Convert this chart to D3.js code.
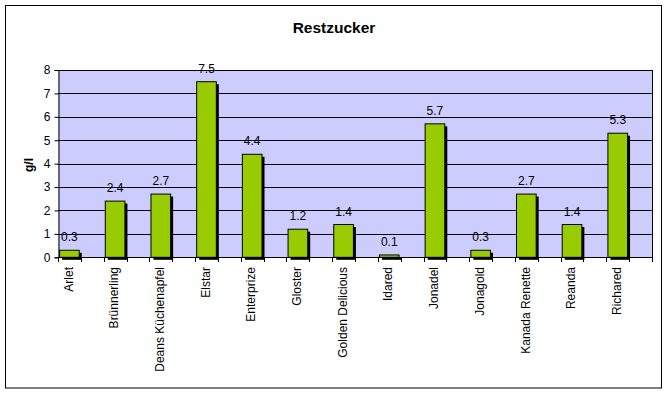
<!DOCTYPE html>
<html>
<head>
<meta charset="utf-8">
<script src="https://cdn.jsdelivr.net/npm/d3@7/dist/d3.min.js"></script>
<style>
  html, body { margin: 0; padding: 0; background: #fff; }
  svg { display: block; }
  text { font-family: Arial, "Liberation Sans", sans-serif; }
</style>
</head>
<body>
<svg id="chart" width="668" height="394"></svg>
<script>
const categories = ["Arlet", "Brünnerling", "Deans Küchenapfel", "Elstar", "Enterprize", "Gloster",
  "Golden Delicious", "Idared", "Jonadel", "Jonagold", "Kanada Renette", "Reanda", "Richared"];
const values = [0.3, 2.4, 2.7, 7.5, 4.4, 1.2, 1.4, 0.1, 5.7, 0.3, 2.7, 1.4, 5.3];
const yTicks = [0, 1, 2, 3, 4, 5, 6, 7, 8];
const chartTitle = "Restzucker";
const yTitle = "g/l";

(function () {
const svg = d3.select("#chart");
const pLeft = 58, pRight = 652, pTop = 70, pBottom = 257.3;

// outer border
svg.append("rect").attr("x", 5.5).attr("y", 5.5).attr("width", 656).attr("height", 382.5)
  .attr("fill", "#fff").attr("stroke", "#000").attr("stroke-width", 1);

// slots: each category followed by an empty slot
const slots = [];
categories.forEach((c, i) => { slots.push(c); slots.push("__blank" + i); });

const x = d3.scaleBand().domain(slots).range([pLeft, pRight]).padding(0);
const y = d3.scaleLinear().domain([0, 8]).range([pBottom, pTop]);

// plot area
svg.append("rect").attr("x", pLeft).attr("y", pTop).attr("width", pRight - pLeft).attr("height", pBottom - pTop)
  .attr("fill", "#CCCCFF");

// gridlines
svg.append("g").selectAll("line").data(yTicks.filter(d => d > 0)).join("line")
  .attr("x1", pLeft).attr("x2", pRight)
  .attr("y1", d => Math.round(y(d)) + 0.5).attr("y2", d => Math.round(y(d)) + 0.5)
  .attr("stroke", "#000").attr("stroke-width", 1);

// right border of plot area
svg.append("line").attr("x1", pRight + 0.5).attr("x2", pRight + 0.5).attr("y1", pTop).attr("y2", pBottom)
  .attr("stroke", "#000");

const bw = x.bandwidth();
const barW = bw * 0.86;
const data = categories.map((c, i) => ({ c, v: values[i] }));

// shadows
svg.append("g").selectAll("rect").data(data).join("rect")
  .attr("x", d => x(d.c) + (bw - barW) / 2 + 2.5)
  .attr("y", d => y(d.v) + 2.5)
  .attr("width", barW)
  .attr("height", d => pBottom - y(d.v))
  .attr("fill", "#000");

// bars
svg.append("g").selectAll("rect").data(data).join("rect")
  .attr("x", d => x(d.c) + (bw - barW) / 2)
  .attr("y", d => y(d.v))
  .attr("width", barW)
  .attr("height", d => pBottom - y(d.v))
  .attr("fill", "#99CC00").attr("stroke", "#000").attr("stroke-width", 1);

// data labels
svg.append("g").selectAll("text").data(data).join("text")
  .attr("x", d => x(d.c) + bw / 2)
  .attr("y", d => y(d.v) - 9)
  .attr("text-anchor", "middle")
  .attr("font-size", "12px")
  .attr("fill", "#000")
  .text(d => d.v.toFixed(1));

// y axis
const yAxis = d3.axisLeft(y).tickValues(yTicks).tickSize(4).tickPadding(4).tickFormat(d3.format("d"));
const gy = svg.append("g").attr("transform", `translate(${pLeft + 0.5},0)`).call(yAxis);
gy.select(".domain").attr("stroke", "#000");
gy.selectAll(".tick line").attr("stroke", "#000");
gy.selectAll(".tick text").attr("font-size", "12px").attr("font-family", "Arial, 'Liberation Sans', sans-serif").attr("fill", "#000");

// x axis line and ticks at slot boundaries
const boundaries = slots.map(s => x(s)).concat([pRight]);
svg.append("line").attr("x1", pLeft).attr("x2", pRight + 1).attr("y1", Math.round(pBottom) + 0.5).attr("y2", Math.round(pBottom) + 0.5)
  .attr("stroke", "#000");
svg.append("g").selectAll("line").data(boundaries).join("line")
  .attr("x1", d => Math.round(d) + 0.5).attr("x2", d => Math.round(d) + 0.5)
  .attr("y1", Math.round(pBottom)).attr("y2", Math.round(pBottom) + 5)
  .attr("stroke", "#000");

// x labels
svg.append("g").selectAll("text").data(categories).join("text")
  .attr("transform", d => `translate(${x(d) + bw / 2 - 1},267) rotate(-90)`)
  .attr("text-anchor", "end")
  .attr("dy", "0.35em")
  .attr("font-size", "12px")
  .attr("fill", "#000")
  .text(d => d);

// titles
svg.append("text").attr("x", 334).attr("y", 32.7).attr("text-anchor", "middle")
  .attr("font-size", "15.5px").attr("font-weight", "bold").text(chartTitle);

svg.append("text").attr("transform", "translate(33,165) rotate(-90)").attr("text-anchor", "middle")
  .attr("font-size", "12px").attr("font-weight", "bold").text(yTitle);
})();
</script>
</body>
</html>
